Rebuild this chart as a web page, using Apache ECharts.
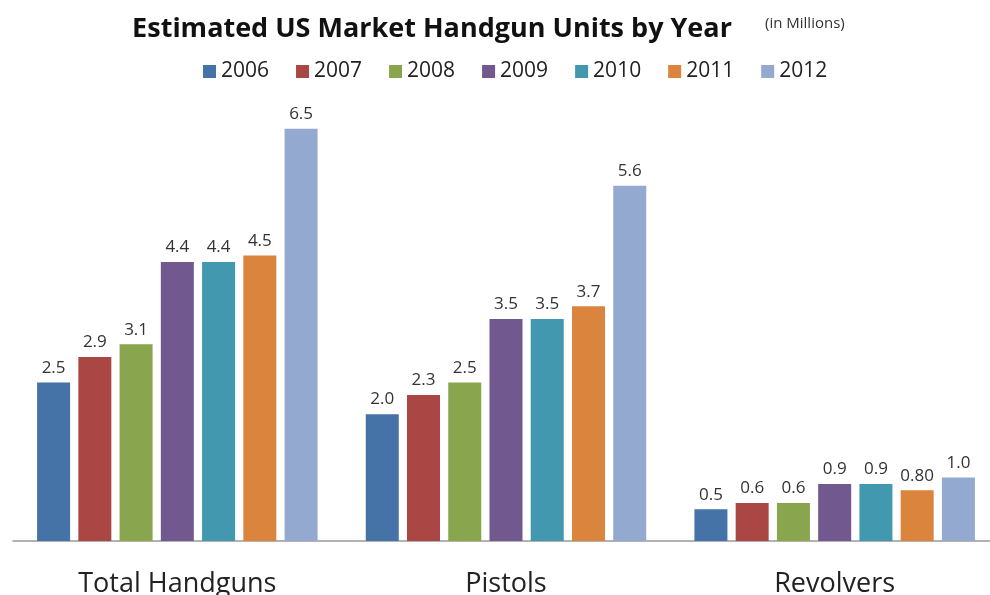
<!DOCTYPE html>
<html>
<head>
<meta charset="utf-8">
<script src="https://cdn.jsdelivr.net/npm/echarts@6/dist/echarts.min.js"></script>
<style>
  html, body { margin: 0; padding: 0; background: #ffffff; }
  #chart { width: 990px; height: 595px; }
</style>
</head>
<body>
<div id="chart"></div>
<script>
// Handgun units (millions) by product type, one array per year
const categories = ['Total Handguns', 'Pistols', 'Revolvers'];
const years = ['2006', '2007', '2008', '2009', '2010', '2011', '2012'];
const units2006 = [2.5, 2.0, 0.5];
const units2007 = [2.9, 2.3, 0.6];
const units2008 = [3.1, 2.5, 0.6];
const units2009 = [4.4, 3.5, 0.9];
const units2010 = [4.4, 3.5, 0.9];
const units2011 = [4.5, 3.7, 0.80];
const units2012 = [6.5, 5.6, 1.0];
// decimals shown in each bar's value label
const labelDecimals = [
  [1, 1, 1], [1, 1, 1], [1, 1, 1], [1, 1, 1], [1, 1, 1], [1, 1, 2], [1, 1, 1]
];
const yearColors = ['#4572A7', '#AA4643', '#89A54E', '#71588F', '#4198AF', '#DB843D', '#93A9CF'];

const seriesValues = [units2006, units2007, units2008, units2009, units2010, units2011, units2012];
const font = '"Open Sans", Lato, sans-serif';

const chart = echarts.init(document.getElementById('chart'), null, { renderer: 'canvas' });

chart.setOption({
  backgroundColor: '#ffffff',
  animation: false,
  title: [
    {
      text: 'Estimated US Market Handgun Units by Year',
      left: 427, top: 11, textAlign: 'center',
      textStyle: { fontFamily: font, fontSize: 27, fontWeight: 'bold', color: '#111111' }
    },
    {
      text: '(in Millions)',
      left: 760, top: 11,
      textStyle: { fontFamily: font, fontSize: 15, fontWeight: 'normal', color: '#333333' }
    }
  ],
  legend: {
    data: years,
    left: 198, top: 56,
    itemWidth: 13, itemHeight: 13, itemGap: 27,
    icon: 'rect',
    textStyle: { fontFamily: font, fontSize: 21, color: '#222222' }
  },
  grid: { left: 13, width: 986, top: 97, bottom: 54, outerBoundsMode: 'none', containLabel: false },
  xAxis: {
    type: 'category',
    data: categories,
    axisLine: { show: true, lineStyle: { color: '#999999', width: 1.5 } },
    axisTick: { show: false },
    axisLabel: { margin: 30, fontFamily: font, fontSize: 27, color: '#222222' }
  },
  yAxis: {
    type: 'value', min: 0, max: 7,
    show: false,
    splitLine: { show: false }
  },
  series: years.map((y, i) => ({
    name: y,
    type: 'bar',
    data: seriesValues[i],
    barWidth: 33,
    barGap: '25%',
    itemStyle: { color: yearColors[i] },
    label: {
      show: true,
      position: 'top',
      distance: 6,
      fontFamily: font,
      fontSize: 17,
      color: '#333333',
      formatter: p => p.value.toFixed(labelDecimals[i][p.dataIndex])
    }
  }))
});
</script>
</body>
</html>
